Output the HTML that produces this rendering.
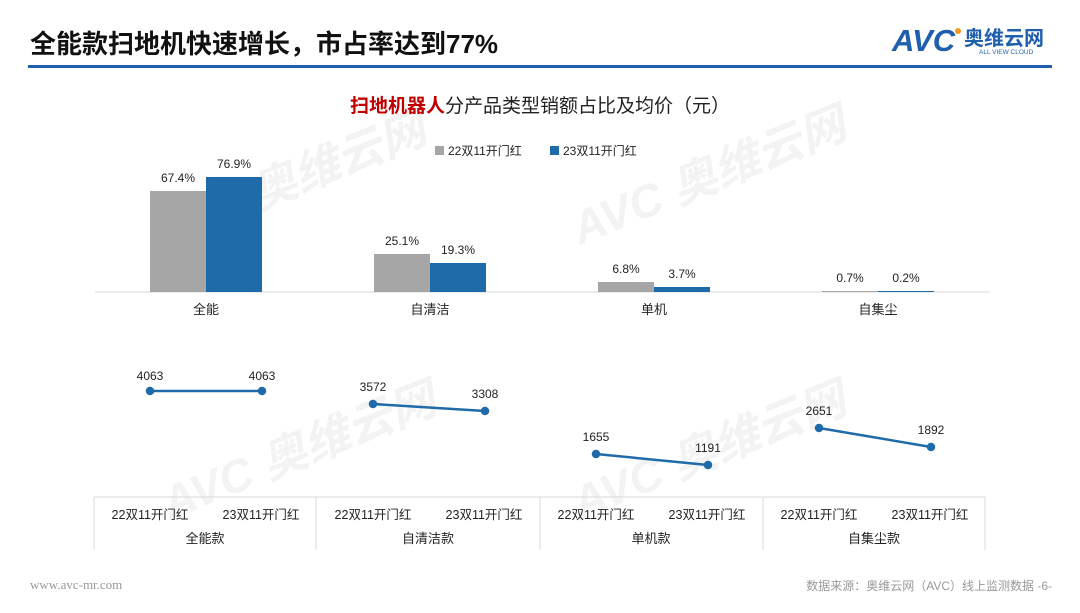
<!DOCTYPE html>
<html><head><meta charset="utf-8"><style>
body{margin:0;width:1080px;height:608px;background:#fff;overflow:hidden;font-family:"Liberation Sans","Noto Sans CJK SC",sans-serif}
</style></head><body>
<svg width="1080" height="608" xmlns="http://www.w3.org/2000/svg" font-family="Liberation Sans, Noto Sans CJK SC, sans-serif">
<g fill="#f3f3f3" font-weight="bold" font-style="italic">
<text x="160" y="250" font-size="46" transform="rotate(-22 160 250)">AVC 奥维云网</text>
<text x="580" y="245" font-size="46" transform="rotate(-22 580 245)">AVC 奥维云网</text>
<text x="170" y="520" font-size="46" transform="rotate(-22 170 520)">AVC 奥维云网</text>
<text x="580" y="520" font-size="46" transform="rotate(-22 580 520)">AVC 奥维云网</text>
</g>
<text x="30" y="53" font-size="26" font-weight="bold" fill="#111">全能款扫地机快速增长，市占率达到77%</text>
<rect x="28" y="65" width="1024" height="3" fill="#1f5fae"/>
<text x="892" y="51" font-size="31" font-weight="bold" fill="#1f5fae" font-style="italic">AVC</text>
<circle cx="958" cy="31" r="3" fill="#f39a1e"/>
<text x="964" y="45" font-size="20" font-weight="bold" fill="#1f5fae">奥维云网</text>
<text x="979" y="54" font-size="6.5" fill="#1f5fae">ALL VIEW CLOUD</text>
<text x="540" y="112" font-size="19" text-anchor="middle" fill="#222"><tspan fill="#c00000" font-weight="bold">扫地机器人</tspan>分产品类型销额占比及均价（元）</text>
<rect x="435" y="146" width="9" height="9" fill="#a6a6a6"/><text x="448" y="155" font-size="12" fill="#222">22双11开门红</text>
<rect x="550" y="146" width="9" height="9" fill="#1f6aa8"/><text x="563" y="155" font-size="12" fill="#222">23双11开门红</text>
<line x1="95" y1="292" x2="990" y2="292" stroke="#d9d9d9"/>
<g font-size="12" fill="#222" text-anchor="middle">
<rect x="150" y="191" width="56" height="101" fill="#a6a6a6"/><rect x="206" y="177" width="56" height="115" fill="#1f6aa8"/>
<text x="178" y="182">67.4%</text><text x="234" y="168">76.9%</text>
<rect x="374" y="254" width="56" height="38" fill="#a6a6a6"/><rect x="430" y="263" width="56" height="29" fill="#1f6aa8"/>
<text x="402" y="245">25.1%</text><text x="458" y="254">19.3%</text>
<rect x="598" y="282" width="56" height="10" fill="#a6a6a6"/><rect x="654" y="287" width="56" height="5" fill="#1f6aa8"/>
<text x="626" y="273">6.8%</text><text x="682" y="278">3.7%</text>
<rect x="822" y="291" width="56" height="1" fill="#a6a6a6"/><rect x="878" y="291" width="56" height="1" fill="#1f6aa8"/>
<text x="850" y="282">0.7%</text><text x="906" y="282">0.2%</text>
<g font-size="13"><text x="206" y="314">全能</text><text x="430" y="314">自清洁</text><text x="654" y="314">单机</text><text x="878" y="314">自集尘</text></g>
</g>
<g stroke="#1f6aa8" stroke-width="2.5" fill="#1f6aa8">
<line x1="150" y1="391" x2="262" y2="391"/><circle cx="150" cy="391" r="3"/><circle cx="262" cy="391" r="3"/>
<line x1="373" y1="404" x2="485" y2="411"/><circle cx="373" cy="404" r="3"/><circle cx="485" cy="411" r="3"/>
<line x1="596" y1="454" x2="708" y2="465"/><circle cx="596" cy="454" r="3"/><circle cx="708" cy="465" r="3"/>
<line x1="819" y1="428" x2="931" y2="447"/><circle cx="819" cy="428" r="3"/><circle cx="931" cy="447" r="3"/>
</g>
<g font-size="12" fill="#222" text-anchor="middle">
<text x="150" y="380">4063</text><text x="262" y="380">4063</text>
<text x="373" y="391">3572</text><text x="485" y="398">3308</text>
<text x="596" y="441">1655</text><text x="708" y="452">1191</text>
<text x="819" y="415">2651</text><text x="931" y="434">1892</text>
</g>
<g stroke="#d9d9d9" fill="none">
<line x1="94" y1="497" x2="985" y2="497"/>
<line x1="94" y1="497" x2="94" y2="550"/><line x1="316" y1="497" x2="316" y2="550"/>
<line x1="540" y1="497" x2="540" y2="550"/><line x1="763" y1="497" x2="763" y2="550"/><line x1="985" y1="497" x2="985" y2="550"/>
</g>
<g font-size="12.5" fill="#222" text-anchor="middle">
<text x="150" y="519">22双11开门红</text><text x="261" y="519">23双11开门红</text>
<text x="373" y="519">22双11开门红</text><text x="484" y="519">23双11开门红</text>
<text x="596" y="519">22双11开门红</text><text x="707" y="519">23双11开门红</text>
<text x="819" y="519">22双11开门红</text><text x="930" y="519">23双11开门红</text>
<g font-size="13"><text x="205" y="543">全能款</text><text x="428" y="543">自清洁款</text><text x="651" y="543">单机款</text><text x="874" y="543">自集尘款</text></g>
</g>
<text x="30" y="589" font-size="13" fill="#999" font-family="Liberation Serif, serif">www.avc-mr.com</text>
<text x="1052" y="590" font-size="12" fill="#999" text-anchor="end">数据来源：奥维云网（AVC）线上监测数据  -6-</text>
</svg>
</body></html>
